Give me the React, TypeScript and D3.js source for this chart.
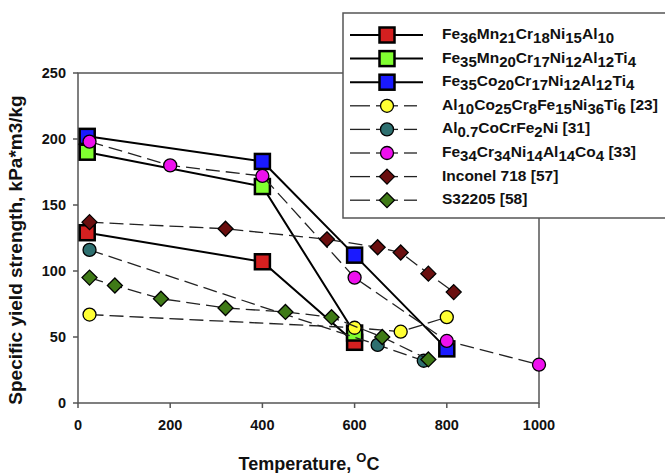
import React from 'react';
import * as d3 from 'd3';

const W = 665;
const H = 473;
const margin = { left: 78, right: 126, top: 73, bottom: 70 };

const xTicks = [0, 200, 400, 600, 800, 1000];
const yTicks = [0, 50, 100, 150, 200, 250];

// each series: label with {} subscripts, x and y values
const labels = [
  'Fe{36}Mn{21}Cr{18}Ni{15}Al{10}',
  'Fe{35}Mn{20}Cr{17}Ni{12}Al{12}Ti{4}',
  'Fe{35}Co{20}Cr{17}Ni{12}Al{12}Ti{4}',
  'Al{10}Co{25}Cr{8}Fe{15}Ni{36}Ti{6} [23]',
  'Al{0.7}CoCrFe{2}Ni [31]',
  'Fe{34}Cr{34}Ni{14}Al{14}Co{4} [33]',
  'Inconel 718 [57]',
  'S32205 [58]',
];
const shapes = ['square', 'square', 'square', 'circle', 'circle', 'circle', 'diamond', 'diamond'];
const fills = ['#d42020', '#80ff30', '#1a1aff', '#ffff33', '#2e7070', '#ee11ee', '#6a0f0f', '#3f7a17'];
const dashed = [false, false, false, true, true, true, true, true];

const temps = [
  [20, 400, 600],
  [20, 400, 600],
  [20, 400, 600, 800],
  [25, 600, 700, 800],
  [25, 650, 750],
  [25, 200, 400, 600, 800, 1000],
  [25, 320, 540, 650, 700, 760, 815],
  [25, 80, 180, 320, 450, 550, 660, 760],
];
const strengths = [
  [129, 107, 46],
  [190, 164, 53],
  [202, 183, 112, 41],
  [67, 57, 54, 65],
  [116, 44, 32],
  [198, 180, 172, 95, 47, 29],
  [137, 132, 124, 118, 114, 98, 84],
  [95, 89, 79, 72, 69, 65, 50, 33],
];

const x = d3.scaleLinear().domain([0, 1000]).range([margin.left, W - margin.right]);
const y = d3.scaleLinear().domain([0, 250]).range([H - margin.bottom, margin.top]);

const font = 'Liberation Sans, Arial, sans-serif';

function Marker({ shape, fill, cx, cy }: { shape: string; fill: string; cx: number; cy: number }) {
  if (shape === 'square') {
    return <rect x={cx - 7.5} y={cy - 7.5} width={15} height={15} fill={fill} stroke="#000" strokeWidth={2.5} />;
  }
  if (shape === 'circle') {
    return <circle cx={cx} cy={cy} r={6.5} fill={fill} stroke="#000" strokeWidth={1.3} />;
  }
  const s = 7.5;
  return (
    <path
      d={`M${cx},${cy - s}L${cx + s},${cy}L${cx},${cy + s}L${cx - s},${cy}Z`}
      fill={fill}
      stroke="#000"
      strokeWidth={1.3}
    />
  );
}

function Label({ text, lx, ly }: { text: string; lx: number; ly: number }) {
  const parts = text.split(/(\{[^}]*\})/).filter((p) => p.length);
  return (
    <text x={lx} y={ly} fontFamily={font} fontWeight="bold" fontSize={15.5} fill="#111">
      {parts.map((p, i) =>
        p.startsWith('{') ? (
          <tspan key={i} fontSize={15} dy={4}>
            {p.slice(1, -1)}
          </tspan>
        ) : (
          <tspan key={i} dy={i > 0 && parts[i - 1].startsWith('{') ? -4 : 0}>
            {p}
          </tspan>
        )
      )}
    </text>
  );
}

export default function App() {
  const line = d3.line<[number, number]>().x((d) => x(d[0])).y((d) => y(d[1]));
  const x0 = x(0), x1 = x(1000), y0 = y(0), y1 = y(250);
  const legX = 343, legY = 13, legRowY = 35, legStep = 23.6;

  return (
    <svg width={W} height={H} style={{ position: 'absolute', left: 0, top: 0, background: '#fff' }}>
      {/* frame */}
      <rect x={x0} y={y1} width={x1 - x0} height={y0 - y1} fill="none" stroke="#555" strokeWidth={1.5} />
      {xTicks.map((t) => (
        <g key={t}>
          <line x1={x(t)} x2={x(t)} y1={y0} y2={y0 + 5} stroke="#555" strokeWidth={1.5} />
          <text x={x(t)} y={y0 + 27} textAnchor="middle" fontFamily={font} fontWeight="bold" fontSize={14.5} fill="#111">
            {t}
          </text>
        </g>
      ))}
      {yTicks.map((t) => (
        <g key={t}>
          <line x1={x0 - 5} x2={x0} y1={y(t)} y2={y(t)} stroke="#555" strokeWidth={1.5} />
          <text x={x0 - 12} y={y(t) + 5} textAnchor="end" fontFamily={font} fontWeight="bold" fontSize={14.5} fill="#111">
            {t}
          </text>
        </g>
      ))}
      <text x={309} y={470} textAnchor="middle" fontFamily={font} fontWeight="bold" fontSize={18} fill="#111">
        Temperature,{' '}
        <tspan fontSize={13} dy={-8}>O</tspan>
        <tspan dy={8}>C</tspan>
      </text>
      <text
        transform={`translate(22,250) rotate(-90)`}
        textAnchor="middle"
        fontFamily={font}
        fontWeight="bold"
        fontSize={19}
        fill="#111"
      >
        Specific yield strength, kPa*m3/kg
      </text>

      {/* series */}
      {labels.map((_, i) => {
        const pts = temps[i].map((t, j) => [t, strengths[i][j]] as [number, number]);
        return (
          <g key={i}>
            <path
              d={line(pts) || ''}
              fill="none"
              stroke={dashed[i] ? '#222' : '#000'}
              strokeWidth={dashed[i] ? 1.3 : 2}
              strokeDasharray={dashed[i] ? '14,6' : undefined}
            />
            {pts.map((p, j) => (
              <Marker key={j} shape={shapes[i]} fill={fills[i]} cx={x(p[0])} cy={y(p[1])} />
            ))}
          </g>
        );
      })}

      {/* legend */}
      <rect x={legX} y={legY} width={W} height={205} fill="#fff" stroke="#555" strokeWidth={1.5} />
      {labels.map((lab, i) => {
        const ly = legRowY + i * legStep;
        return (
          <g key={i}>
            {dashed[i] ? (
              <g stroke="#222" strokeWidth={1.3}>
                <line x1={350} x2={370} y1={ly} y2={ly} />
                <line x1={376} x2={398} y1={ly} y2={ly} />
                <line x1={404} x2={417} y1={ly} y2={ly} />
              </g>
            ) : (
              <line x1={350} x2={423} y1={ly} y2={ly} stroke="#000" strokeWidth={2} />
            )}
            <Marker shape={shapes[i]} fill={fills[i]} cx={387} cy={ly} />
            <Label text={lab} lx={442} ly={ly + 4} />
          </g>
        );
      })}
    </svg>
  );
}
